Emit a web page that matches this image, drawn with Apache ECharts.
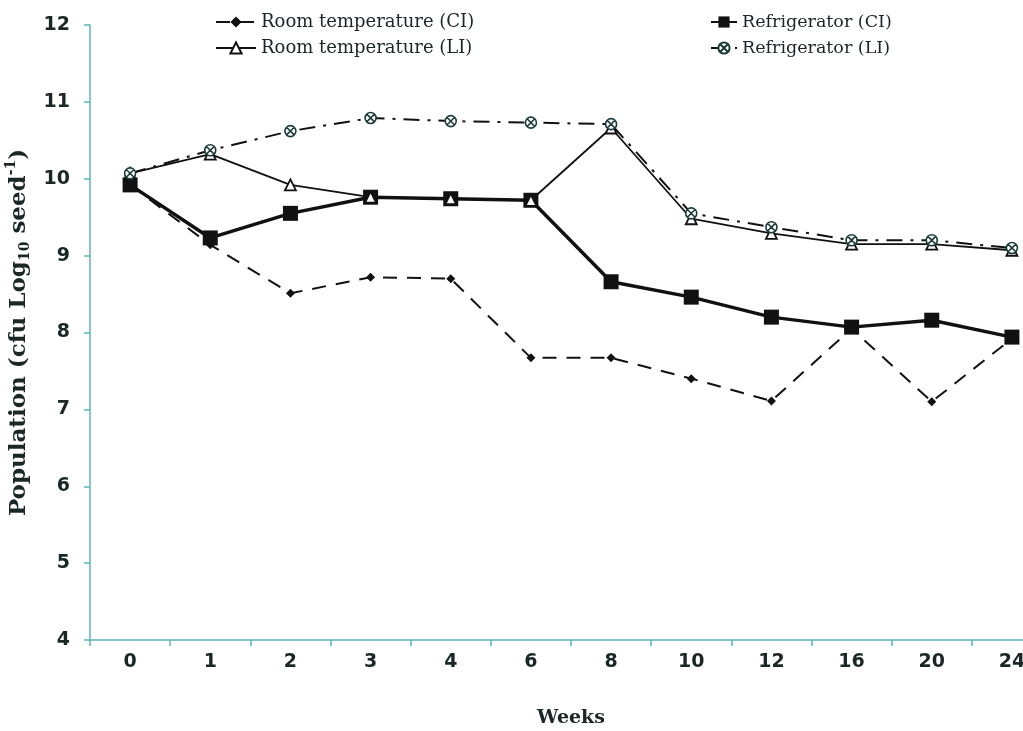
<!DOCTYPE html>
<html>
<head>
<meta charset="utf-8">
<script src="https://cdn.jsdelivr.net/npm/echarts@6/dist/echarts.min.js"></script>
<style>html,body{margin:0;padding:0;background:#fff;overflow:hidden;width:1023px;height:731px;}#c{width:1052px;height:731px;}</style>
</head>
<body>
<div id="c"></div>
<script>
const weeks = ['0','1','2','3','4','6','8','10','12','16','20','24'];
const roomCI = [9.92, 9.14, 8.51, 8.72, 8.70, 7.67, 7.67, 7.40, 7.11, 8.05, 7.10, 7.92];
const fridgeCI = [9.92, 9.23, 9.55, 9.76, 9.74, 9.72, 8.66, 8.46, 8.20, 8.07, 8.16, 7.94];
const roomLI = [10.07, 10.32, 9.92, 9.76, 9.74, 9.72, 10.66, 9.48, 9.29, 9.15, 9.15, 9.07];
const fridgeLI = [10.07, 10.37, 10.62, 10.79, 10.75, 10.73, 10.71, 9.55, 9.37, 9.20, 9.20, 9.10];
const yTicks = {min: 4, max: 12, interval: 1};

const axisColor = '#5fb5b8';
const textColor = '#1b2626';
const circX = 'path://M0,-5A5,5 0 1,1 0,5A5,5 0 1,1 0,-5Z M-3.5,-3.5L3.5,3.5M3.5,-3.5L-3.5,3.5';
const serif = 'DejaVu Serif';
const sans = 'DejaVu Sans';

const chart = echarts.init(document.getElementById('c'), null, {renderer: 'canvas'});
chart.setOption({
  animation: false,
  backgroundColor: '#fff',
  grid: {left: 90, top: 25, right: 0, bottom: 91, containLabel: false, outerBoundsMode: 'none'},
  legend: [
    {
      orient: 'vertical', left: 210, top: 8, itemGap: 8, itemWidth: 40, itemHeight: 14,
      textStyle: {fontFamily: serif, fontSize: 18, color: textColor},
      data: ['Room temperature (CI)', 'Room temperature (LI)']
    },
    {
      orient: 'vertical', left: 705, top: 8, itemGap: 8, itemWidth: 26, itemHeight: 14,
      textStyle: {fontFamily: serif, fontSize: 17.5, color: textColor},
      data: ['Refrigerator (CI)', 'Refrigerator (LI)']
    }
  ],
  xAxis: {
    type: 'category',
    data: weeks,
    boundaryGap: true,
    name: 'Weeks',
    nameLocation: 'middle',
    nameGap: 69,
    nameTextStyle: {fontFamily: serif, fontWeight: 'bold', fontSize: 19, color: textColor},
    axisLine: {lineStyle: {color: axisColor, width: 1.5}},
    axisTick: {show: true, length: 6, lineStyle: {color: axisColor, width: 1.5}},
    axisLabel: {margin: 13, fontFamily: sans, fontWeight: 'bold', fontSize: 19, color: textColor},
    splitLine: {show: false}
  },
  yAxis: {
    type: 'value',
    min: yTicks.min, max: yTicks.max, interval: yTicks.interval,
    name: '{a|Population (cfu Log}{sub|10}{a| seed}{sup|-1}{a|)}',
    nameLocation: 'middle',
    nameRotate: 90,
    nameGap: 50,
    nameTextStyle: {
      fontFamily: serif, fontWeight: 'bold', fontSize: 23, color: textColor,
      rich: {
        a: {fontFamily: serif, fontWeight: 'bold', fontSize: 23, color: textColor, lineHeight: 28},
        sub: {fontFamily: serif, fontWeight: 'bold', fontSize: 14, color: textColor, lineHeight: 13, verticalAlign: 'bottom'},
        sup: {fontFamily: serif, fontWeight: 'bold', fontSize: 14, color: textColor, lineHeight: 13, verticalAlign: 'top'}
      }
    },
    axisLine: {show: true, lineStyle: {color: axisColor, width: 1.5}},
    axisTick: {show: true, length: 6, lineStyle: {color: axisColor, width: 1.5}},
    axisLabel: {margin: 20, fontFamily: sans, fontWeight: 'bold', fontSize: 19, color: textColor},
    splitLine: {show: false}
  },
  series: [
    {
      name: 'Room temperature (CI)', type: 'line', data: roomCI, z: 2,
      symbol: 'diamond', symbolSize: 9,
      lineStyle: {color: '#111', width: 2, type: [14, 10]},
      itemStyle: {color: '#111', borderColor: '#111', borderWidth: 0}
    },
    {
      name: 'Refrigerator (CI)', type: 'line', data: fridgeCI, z: 3,
      symbol: 'rect', symbolSize: 15,
      lineStyle: {color: '#111', width: 3.5, type: 'solid'},
      itemStyle: {color: '#111', borderColor: '#111', borderWidth: 0}
    },
    {
      name: 'Room temperature (LI)', type: 'line', data: roomLI, z: 4,
      symbol: 'triangle', symbolSize: 11, showAllSymbol: true,
      lineStyle: {color: '#111', width: 1.8, type: 'solid'},
      itemStyle: {color: '#fff', borderColor: '#111', borderWidth: 1.8}
    },
    {
      name: 'Refrigerator (LI)', type: 'line', data: fridgeLI, z: 5,
      symbol: circX, symbolSize: 11, showAllSymbol: true,
      lineStyle: {color: '#111', width: 2, type: [16, 8, 3, 8]},
      itemStyle: {color: '#fff', borderColor: '#1c3c3c', borderWidth: 1.6}
    }
  ]
});
</script>
</body>
</html>
